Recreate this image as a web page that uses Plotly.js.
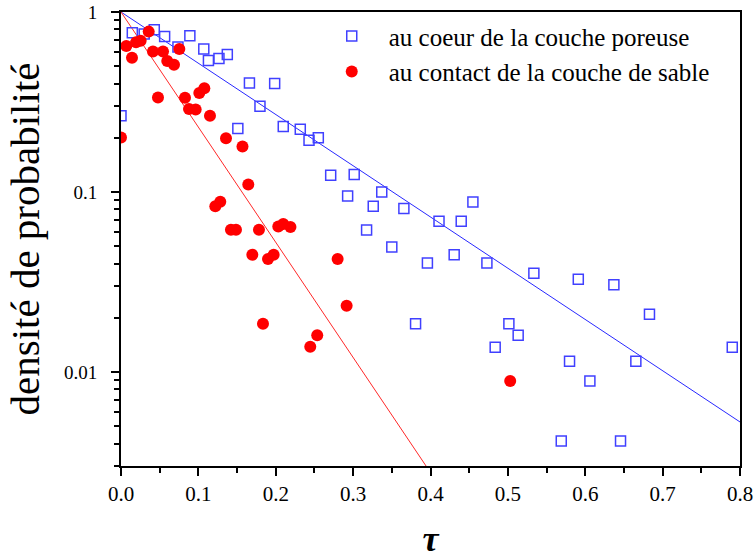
<!DOCTYPE html>
<html>
<head>
<meta charset="utf-8">
<script src="https://cdn.plot.ly/plotly-3.0.1.min.js"></script>
<style>html,body{margin:0;padding:0;background:#fff;}#chart{width:755px;height:559px;}</style>
</head>
<body>
<div id="chart"></div>
<script>
// Blue series: "au coeur de la couche poreuse"
const coeurX = [0.000,0.0146,0.030,0.043,0.0564,0.0736,0.089,0.107,0.113,0.1266,0.1374,0.151,0.166,0.1796,0.1986,0.2097,0.2317,0.243,0.255,0.271,0.2929,0.3014,0.3174,0.326,0.337,0.350,0.3656,0.3807,0.396,0.411,0.4306,0.4397,0.4548,0.4729,0.4836,0.5013,0.5133,0.5336,0.569,0.5797,0.591,0.606,0.637,0.6456,0.6654,0.683,0.790];
const coeurY = [0.265,0.767,0.754,0.797,0.732,0.638,0.738,0.622,0.537,0.552,0.581,0.225,0.403,0.299,0.401,0.231,0.223,0.194,0.200,0.124,0.0949,0.125,0.0614,0.0832,0.0999,0.0494,0.081,0.0185,0.0403,0.0687,0.0448,0.0687,0.0879,0.0403,0.0137,0.0185,0.016,0.0353,0.00413,0.01145,0.0327,0.0089,0.0305,0.00413,0.01145,0.0209,0.0137];
// Red series: "au contact de la couche de sable"
const contactX = [0.000,0.0069,0.0142,0.0194,0.0254,0.0358,0.0413,0.0478,0.0543,0.0598,0.0685,0.0754,0.0827,0.0879,0.0965,0.1012,0.1077,0.115,0.1219,0.1283,0.1357,0.1421,0.1486,0.157,0.1645,0.1697,0.1783,0.1835,0.190,0.1973,0.2033,0.2097,0.219,0.2446,0.2536,0.280,0.2916,0.503];
const contactY = [0.201,0.647,0.557,0.678,0.693,0.778,0.604,0.335,0.604,0.534,0.509,0.622,0.334,0.289,0.287,0.355,0.377,0.265,0.0832,0.0883,0.199,0.0617,0.0617,0.179,0.110,0.0448,0.0617,0.0185,0.0424,0.0448,0.0642,0.0664,0.0638,0.0138,0.016,0.0424,0.0233,0.0089];
// Exponential fit lines (end points)
const fitX = [0, 0.8];
const coeurFitY = [1, 0.00527];
const contactFitY = [1, 0.0000076];
// Axis ticks
const yTickVals = [1, 0.1, 0.01];
const yTickText = ['1', '0.1', '0.01'];
const seriesNames = ['au coeur de la couche poreuse', 'au contact de la couche de sable'];

const SERIF = '"Times New Roman", "Liberation Serif", Times, serif';
const blue = 'rgb(64,64,255)';
const red = 'rgb(255,0,0)';
const data = [
  {x: fitX, y: coeurFitY, mode: 'lines', line: {color: 'rgb(40,40,255)', width: 1}, showlegend: false, hoverinfo: 'skip'},
  {x: fitX, y: contactFitY, mode: 'lines', line: {color: 'rgb(255,40,40)', width: 1}, showlegend: false, hoverinfo: 'skip'},
  {x: coeurX, y: coeurY, mode: 'markers', name: seriesNames[0],
   marker: {symbol: 'square-open', size: 10, color: blue, line: {color: blue, width: 1.5}}},
  {x: contactX, y: contactY, mode: 'markers', name: seriesNames[1],
   marker: {symbol: 'circle', size: 12, color: red, line: {width: 0}}}
];

const layout = {
  width: 755, height: 559,
  margin: {l: 121, r: 15, t: 12, b: 93},
  paper_bgcolor: '#fff', plot_bgcolor: '#fff',
  font: {family: SERIF, color: '#000'},
  showlegend: true,
  legend: {x: 0.313, y: 0.997, xanchor: 'left', yanchor: 'top', itemwidth: 64,
           font: {size: 25, family: SERIF, color: '#000'}, bgcolor: 'rgba(0,0,0,0)', tracegroupgap: 0},
  xaxis: {
    range: [0, 0.8], dtick: 0.1, tickformat: '.1f',
    showline: true, linewidth: 2, linecolor: '#000', mirror: true,
    ticks: 'outside', ticklen: 8, tickwidth: 2, tickcolor: '#000',
    minor: {dtick: 0.05, ticks: 'outside', ticklen: 5, tickwidth: 2, tickcolor: '#000', showgrid: false},
    showgrid: false, zeroline: false,
    tickfont: {size: 21, family: SERIF, color: '#000'},
    title: {text: '<b><i>τ</i></b>', font: {size: 36, family: SERIF, color: '#000'}, standoff: 22}
  },
  yaxis: {
    type: 'log', range: [Math.log10(0.003), 0],
    tickvals: yTickVals, ticktext: yTickText,
    showline: true, linewidth: 2, linecolor: '#000', mirror: true,
    ticks: 'outside', ticklen: 8, tickwidth: 2, tickcolor: '#000',
    minor: {dtick: 'D1', ticks: 'outside', ticklen: 5, tickwidth: 2, tickcolor: '#000', showgrid: false},
    showgrid: false, zeroline: false,
    tickfont: {size: 19, family: SERIF, color: '#000'}, ticklabelstandoff: 10,
    title: {text: 'densité de probabilité', font: {size: 41, family: SERIF, color: '#000'}, standoff: 12}
  }
};
Plotly.newPlot('chart', data, layout, {staticPlot: true, displayModeBar: false});
</script>
</body>
</html>
